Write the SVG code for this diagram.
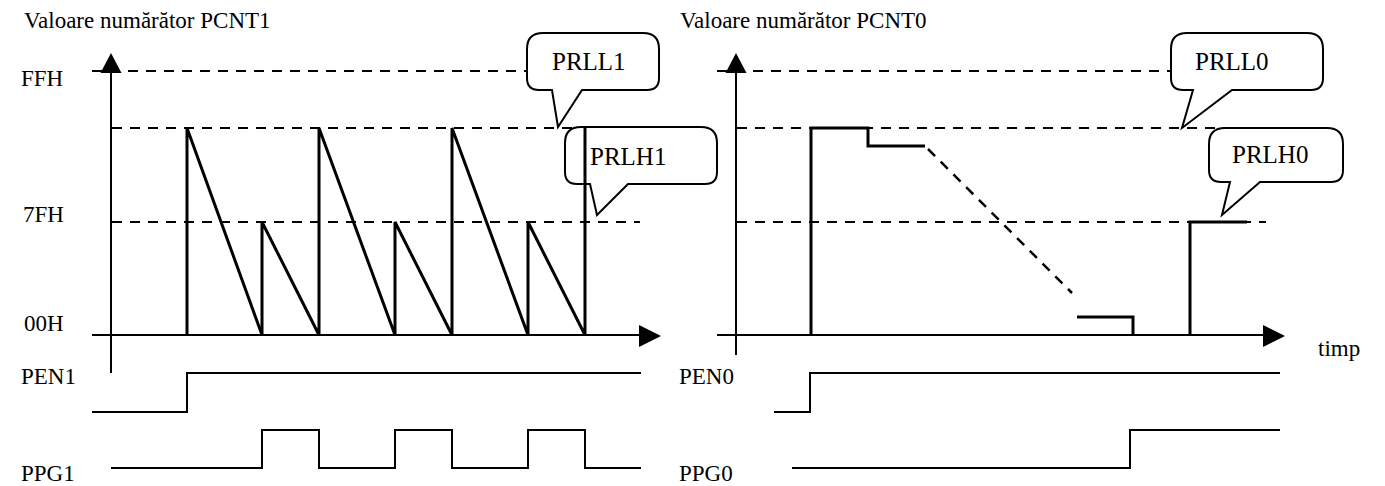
<svg xmlns="http://www.w3.org/2000/svg" width="1385" height="486" viewBox="0 0 1385 486">
<defs>
<style>
text{font-family:"Liberation Serif","Times New Roman",serif;fill:#000}
.lbl{font-size:23px}
.cl{font-size:25px}
.dash{stroke:#000;stroke-width:2;stroke-dasharray:10,8;fill:none}
.ax{stroke:#000;stroke-width:2;fill:none}
.sig{stroke:#000;stroke-width:2;fill:none}
.thick{stroke:#000;stroke-width:3;fill:none;stroke-linejoin:miter}
.bub{stroke:#000;stroke-width:2;fill:#fff}
.ah{fill:#000}
</style>
</defs>
<rect width="1385" height="486" fill="#fff"/>

<g id="labels">
<text class="lbl" x="24" y="28">Valoare numărător PCNT1</text>
<text class="lbl" x="680" y="28">Valoare numărător PCNT0</text>
<text class="lbl" x="21" y="86">FFH</text>
<text class="lbl" x="23" y="222">7FH</text>
<text class="lbl" x="24" y="331">00H</text>
<text class="lbl" x="21" y="384">PEN1</text>
<text class="lbl" x="21" y="481">PPG1</text>
<text class="lbl" x="679" y="384">PEN0</text>
<text class="lbl" x="679" y="481">PPG0</text>
<text class="lbl" x="1318" y="356">timp</text>
</g>

<g id="connectors">
<path class="dash" d="M92,71 H527"/>
<path class="dash" d="M112,128 H640"/>
<path class="dash" d="M112,222 H640"/>
<path class="dash" d="M717,71 H1171"/>
<path class="dash" d="M737,128 H1262"/>
<path class="dash" d="M737,222 H1266"/>
<path class="ax" d="M111,373 V72"/>
<polygon class="ah" points="111,53 100.5,73 121.5,73"/>
<path class="ax" d="M92,335 H640"/>
<polygon class="ah" points="661,336 639,325 639,347"/>
<path class="ax" d="M736,355 V72"/>
<polygon class="ah" points="736,53 725.5,73 746.5,73"/>
<path class="ax" d="M717,335 H1264"/>
<polygon class="ah" points="1285,336 1263,325 1263,347"/>
</g>

<g id="callout-PRLL1">
<path class="bub" d="M543,33 H643 Q659,33 659,49 V78 Q659,90 647,90 H582 L558,127 L552,90 H539 Q527,90 527,78 V49 Q527,33 543,33 Z"/>
<text class="cl" x="552" y="70">PRLL1</text>
</g>
<g id="callout-PRLH1">
<path class="bub" d="M581,127 H701 Q717,127 717,143 V172 Q717,184 705,184 H628 L597,215 L590,184 H577 Q565,184 565,172 V143 Q565,127 581,127 Z"/>
<text class="cl" x="590" y="165">PRLH1</text>
</g>
<g id="callout-PRLL0">
<path class="bub" d="M1187,33 H1307 Q1323,33 1323,49 V78 Q1323,90 1311,90 H1232 L1182,128 L1193,90 H1183 Q1171,90 1171,78 V49 Q1171,33 1187,33 Z"/>
<text class="cl" x="1195" y="70">PRLL0</text>
</g>
<g id="callout-PRLH0">
<path class="bub" d="M1225,128 H1327 Q1343,128 1343,144 V170 Q1343,182 1331,182 H1260 L1222,215 L1230,182 H1221 Q1209,182 1209,170 V144 Q1209,128 1225,128 Z"/>
<text class="cl" x="1232" y="163">PRLH0</text>
</g>

<g id="counter-PCNT1">
<path class="thick" d="M187,335 V128 L262,335 V222 L319,335 V128 L395,335 V222 L452,335 V128 L528,335 V222 L585,335 V128"/>
</g>

<g id="counter-PCNT0">
<path class="thick" d="M811,335 V128 H868 V146 H925"/>
<path class="dash" style="stroke-width:2.5" d="M928,149 L1072,293"/>
<path class="thick" d="M1077,317 H1133 V335"/>
<path class="thick" d="M1190,335 V222 H1247"/>
</g>

<g id="signal-PEN1">
<path class="sig" d="M92,412 H187 V373 H641"/>
</g>
<g id="signal-PPG1">
<path class="sig" d="M111,468 H262 V430 H319 V468 H395 V430 H452 V468 H528 V430 H585 V468 H641"/>
</g>
<g id="signal-PEN0">
<path class="sig" d="M774,412 H810 V373 H1280"/>
</g>
<g id="signal-PPG0">
<path class="sig" d="M792,468 H1130 V430 H1280"/>
</g>
</svg>
